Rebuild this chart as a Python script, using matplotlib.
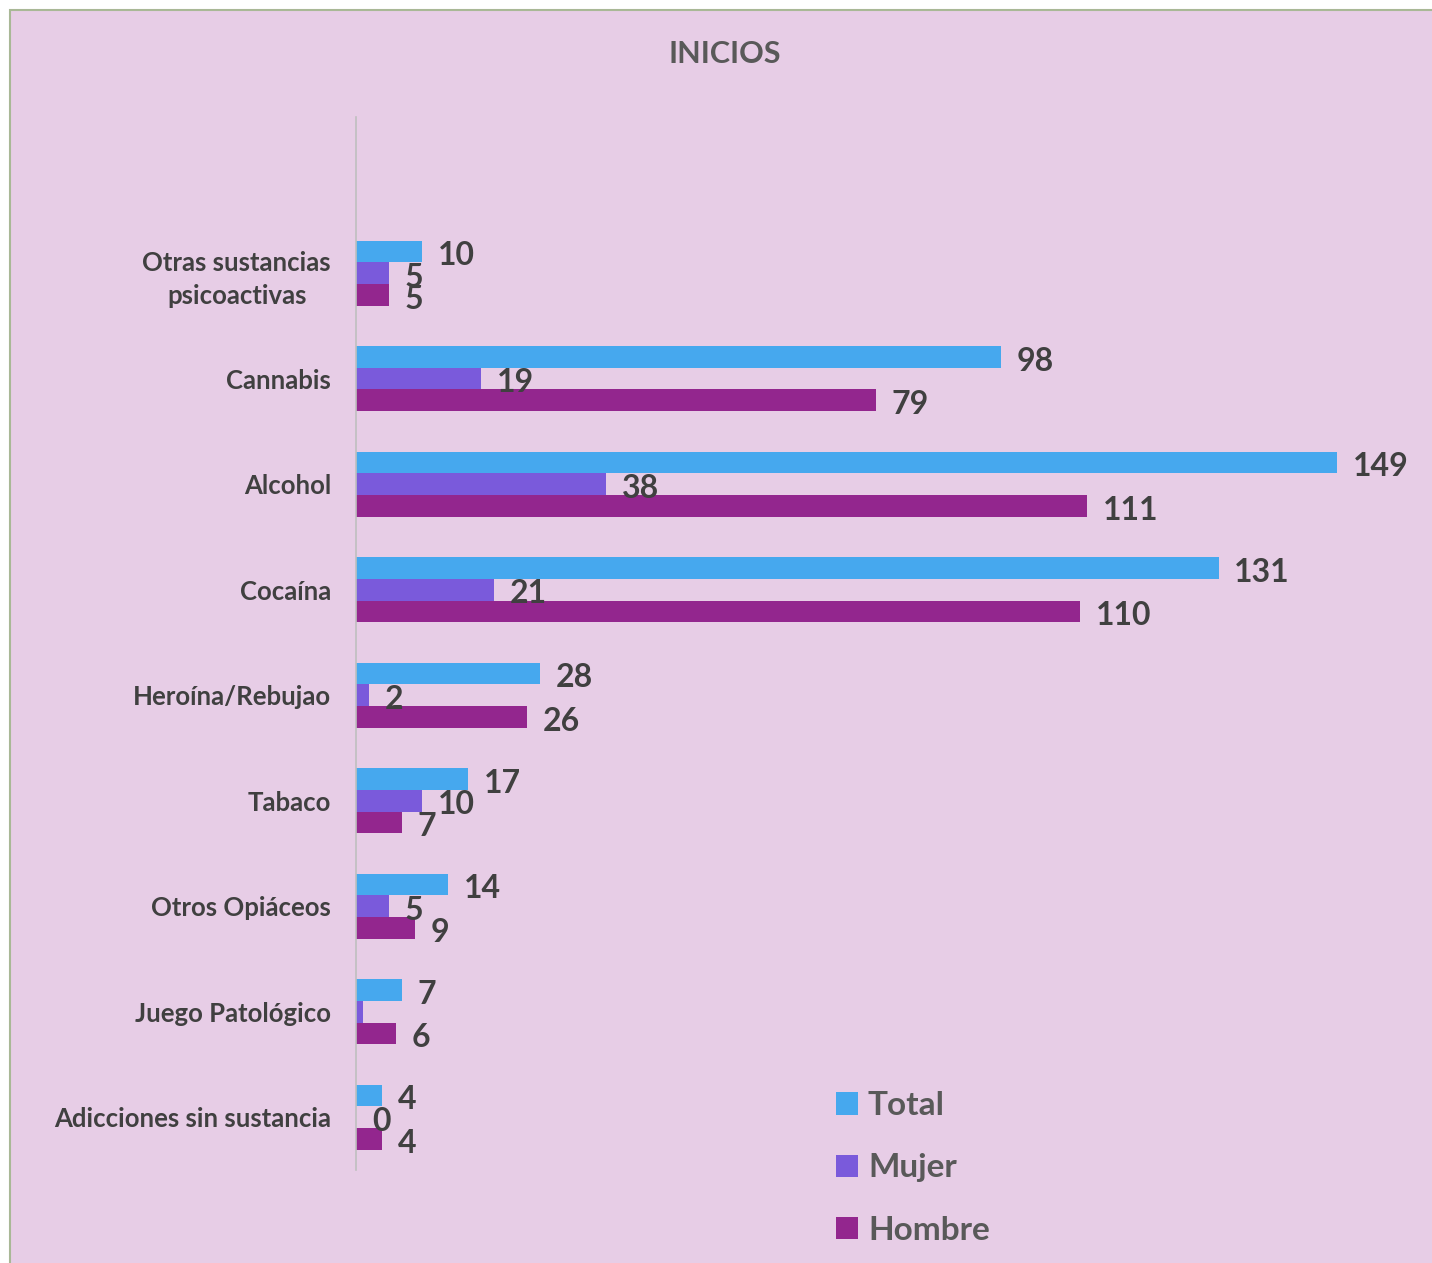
import matplotlib.pyplot as plt
import numpy as np
from matplotlib.patches import Rectangle

plt.rcParams['font.family'] = ['Lato', 'DejaVu Sans']

# data (top to bottom as in the chart)
categories = ['Otras sustancias\npsicoactivas', 'Cannabis', 'Alcohol', 'Cocaína',
              'Heroína/Rebujao', 'Tabaco', 'Otros Opiáceos', 'Juego Patológico',
              'Adicciones sin sustancia']
total = [10, 98, 149, 131, 28, 17, 14, 7, 4]
mujer = [5, 19, 38, 21, 2, 10, 5, 1, 0]
hombre = [5, 79, 111, 110, 26, 7, 9, 6, 4]
hidden_labels = [('Mujer', 7)]  # label not shown in the original

W, H = 1432, 1263
bg = '#E7CDE6'
fig = plt.figure(figsize=(W / 100, H / 100), dpi=100, facecolor='white')
fig.patches.append(Rectangle((10 / W, -0.01), 1.1, (H - 10) / H + 0.01,
                             transform=fig.transFigure, facecolor=bg,
                             edgecolor='#A9B896', lw=1.5, zorder=-1))

px_per_unit = 6.584
xmax = 160
ax = fig.add_axes([356 / W, 1 - 1170 / H, xmax * px_per_unit / W, (1170 - 117) / H])
ax.set_facecolor('none')

n = len(categories)
y = np.arange(n)[::-1]
bh = 0.205
series = [('Total', total, '#46A8EE', bh), ('Mujer', mujer, '#7A5ADB', 0),
          ('Hombre', hombre, '#93268E', -bh)]
handles = []
for name, vals, col, off in series:
    bars = ax.barh(y + off, vals, height=bh, color=col, label=name)
    handles.append(bars)
    for i, (yy, v) in enumerate(zip(y + off, vals)):
        if (name, i) in hidden_labels:
            continue
        ax.text(v + 2.4, yy - 0.04, str(v), ha='left', va='center', fontsize=23,
                fontweight='bold', color='#404040')

ax.set_xlim(0, xmax)
ax.set_ylim(-0.5, 9.48)
ax.set_yticks(y)
ax.set_yticklabels(categories, fontsize=18.5, fontweight='bold', color='#404040',
                   linespacing=1.45, multialignment='center')
ax.tick_params(axis='y', length=0, pad=18)
ax.set_xticks([])
for s in ['top', 'right', 'bottom']:
    ax.spines[s].set_visible(False)
ax.spines['left'].set_color('#BFBFBF')
ax.spines['left'].set_linewidth(1.2)

fig.text(725 / W, 1 - 54 / H, 'INICIOS', ha='center', va='center', fontsize=22,
         fontweight='bold', color='#595959')

leg = fig.legend(handles=handles, loc='center left',
                 bbox_to_anchor=(836 / W, 1 - 1168 / H), frameon=False,
                 fontsize=24, handlelength=0.66, handleheight=0.66,
                 handletextpad=0.3, labelspacing=1.0, borderpad=0, borderaxespad=0)
for t in leg.get_texts():
    t.set_color('#595959')
    t.set_fontweight('bold')

plt.savefig('out.png', dpi=100, facecolor=fig.get_facecolor())
plt.close()
